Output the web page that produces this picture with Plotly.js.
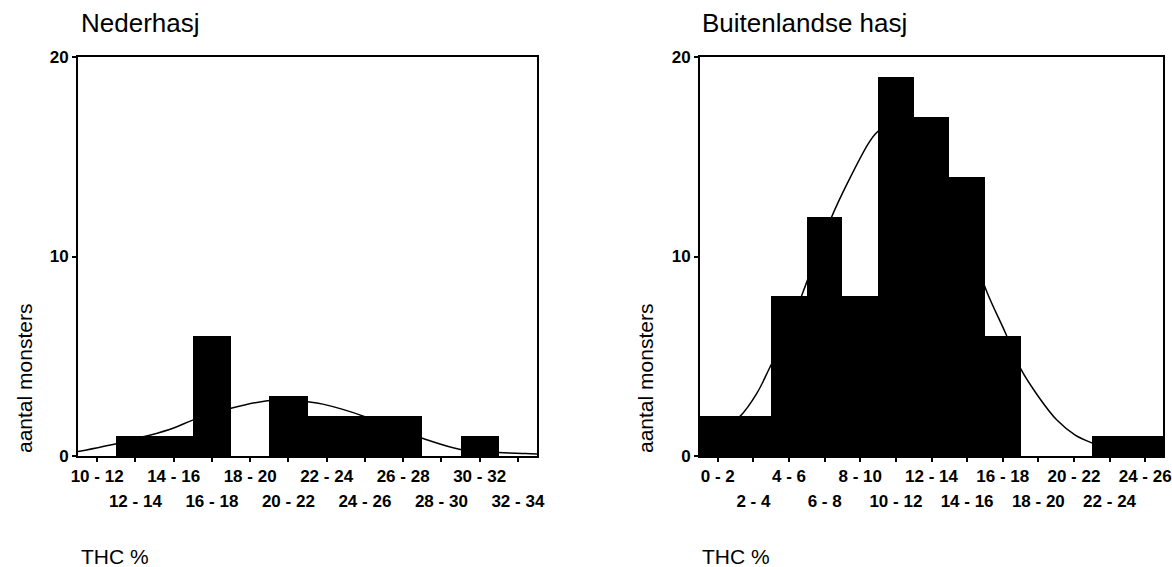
<!DOCTYPE html>
<html>
<head>
<meta charset="utf-8">
<script src="https://cdn.plot.ly/plotly-3.0.1.min.js"></script>
<style>html,body{margin:0;padding:0;background:#fff;}#chart{width:1172px;height:567px;}</style>
</head>
<body>
<div id="chart"></div>
<script>
// ---- Data ----
const leftTitle = 'Nederhasj';
const rightTitle = 'Buitenlandse hasj';
const yTitle = 'aantal monsters';
const xTitle = 'THC %';

const leftLabels = ['10 - 12','12 - 14','14 - 16','16 - 18','18 - 20','20 - 22','22 - 24','24 - 26','26 - 28','28 - 30','30 - 32','32 - 34'];
const leftCounts = [0, 1, 1, 6, 0, 3, 2, 2, 2, 0, 1, 0];
const leftCurveX = [10, 12.1, 12.9, 13.8, 15, 16, 18, 19.9, 21, 22, 22.8, 25, 26, 27, 28, 30, 32, 33.4, 34];
const leftCurveY = [0.22, 0.64, 0.85, 1.05, 1.4, 1.8, 2.39, 2.77, 2.8, 2.72, 2.6, 1.97, 1.55, 1.2, 0.89, 0.33, 0.17, 0.13, 0.1];

const rightLabels = ['0 - 2','2 - 4','4 - 6','6 - 8','8 - 10','10 - 12','12 - 14','14 - 16','16 - 18','18 - 20','20 - 22','22 - 24','24 - 26'];
const rightCounts = [2, 2, 8, 12, 8, 19, 17, 14, 6, 0, 0, 1, 1];
const rightCurveX = [0, 1, 2, 2.26, 3.19, 3.9, 5, 5.76, 7.4, 8.32, 9.46, 9.87, 10.5, 11, 12, 13, 14, 15, 16.14, 17.16, 17.99, 19.01, 20.04, 21.07, 22.06, 23, 24, 25, 26];
const rightCurveY = [0.62, 1.09, 1.83, 2.0, 3.14, 4.4, 6.4, 8.16, 12.0, 13.75, 15.67, 16.17, 16.6, 16.7, 16.3, 15.0, 13.2, 10.9, 8.16, 6.15, 4.4, 2.97, 1.8, 1.05, 0.64, 0.35, 0.18, 0.09, 0.04];

const yTicks = [0, 10, 20];

// ---- helpers ----
function binLo(l){ return parseFloat(l.split('-')[0]); }
function binHi(l){ return parseFloat(l.split('-')[1]); }
function centers(labels){ return labels.map(l => (binLo(l)+binHi(l))/2); }
function widths(labels){ return labels.map(l => binHi(l)-binLo(l)); }

const FONT = 'Arial, "Liberation Sans", sans-serif';
const W = 1172, H = 567;
const px = v => v / W;
const py = v => (H - v) / H;

const yDom = [py(456), py(57)];
const leftDom = [px(78), px(537)];
const rightDom = [px(700), px(1163)];

function rowLabels(labels, row){ return labels.map((l,i) => (i % 2 === row) ? l : ''); }

const lc = centers(leftLabels), rc = centers(rightLabels);
const leftRange = [binLo(leftLabels[0]), binHi(leftLabels[leftLabels.length-1])];
const rightRange = [binLo(rightLabels[0]), binHi(rightLabels[rightLabels.length-1])];

const traces = [
  {type:'scatter', mode:'lines', x:leftCurveX, y:leftCurveY, xaxis:'x', yaxis:'y',
   line:{color:'#000', width:1.5, shape:'spline'}, hoverinfo:'skip', showlegend:false},
  {type:'bar', x:lc, y:leftCounts, width:widths(leftLabels), xaxis:'x3', yaxis:'y3',
   marker:{color:'#000', line:{width:0}}, showlegend:false},
  {type:'scatter', mode:'lines', x:rightCurveX, y:rightCurveY, xaxis:'x2', yaxis:'y2',
   line:{color:'#000', width:1.5, shape:'spline'}, hoverinfo:'skip', showlegend:false},
  {type:'bar', x:rc, y:rightCounts, width:widths(rightLabels), xaxis:'x4', yaxis:'y4',
   marker:{color:'#000', line:{width:0}}, showlegend:false}
];

const tickFont = {family:FONT, size:17, color:'#000', weight:'bold'};
const yTickFont = {family:FONT, size:17, color:'#000', weight:'bold'};

function baseX(dom, range, vals, labels, anchor){
  return {domain:dom, range:range, anchor:anchor, tickmode:'array', tickvals:vals,
    ticktext:rowLabels(labels,0), ticks:'outside', ticklen:4, tickwidth:2, tickcolor:'#000',
    showline:true, mirror:true, linecolor:'#000', linewidth:2, showgrid:false, zeroline:false,
    tickfont:tickFont, fixedrange:true};
}
function overX(over, range, vals, labels, anchor){
  return {overlaying:over, range:range, anchor:anchor, side:'bottom', tickmode:'array', tickvals:vals,
    ticktext:rowLabels(labels,1), ticks:'', showline:false, showgrid:false, zeroline:false,
    ticklabelstandoff:33, tickfont:tickFont, fixedrange:true};
}
function baseY(anchor){
  return {domain:yDom, range:[0,20], anchor:anchor, tickmode:'array', tickvals:yTicks,
    ticks:'outside', ticklen:4, tickwidth:2, tickcolor:'#000', showline:true, mirror:true,
    linecolor:'#000', linewidth:2, showgrid:false, zeroline:false, tickfont:yTickFont, fixedrange:true};
}
function overY(over, anchor){
  return {overlaying:over, range:[0,20], anchor:anchor, showticklabels:false, ticks:'',
    showline:false, showgrid:false, zeroline:false, fixedrange:true};
}

const layout = {
  width:W, height:H, autosize:false,
  margin:{l:0, r:0, t:0, b:0},
  paper_bgcolor:'#fff', plot_bgcolor:'rgba(0,0,0,0)',
  bargap:0, barmode:'overlay', showlegend:false,
  font:{family:FONT, color:'#000'},
  xaxis: baseX(leftDom, leftRange, lc, leftLabels, 'y'),
  yaxis: baseY('x'),
  xaxis2: baseX(rightDom, rightRange, rc, rightLabels, 'y2'),
  yaxis2: baseY('x2'),
  xaxis3: overX('x', leftRange, lc, leftLabels, 'y3'),
  yaxis3: overY('y', 'x3'),
  xaxis4: overX('x2', rightRange, rc, rightLabels, 'y4'),
  yaxis4: overY('y2', 'x4'),
  annotations: [
    {text:leftTitle, xref:'paper', yref:'paper', x:px(79), y:py(23), xanchor:'left', yanchor:'middle', showarrow:false, font:{family:FONT, size:26, color:'#000'}},
    {text:rightTitle, xref:'paper', yref:'paper', x:px(700), y:py(23), xanchor:'left', yanchor:'middle', showarrow:false, font:{family:FONT, size:26, color:'#000'}},
    {text:xTitle, xref:'paper', yref:'paper', x:px(79), y:py(556), xanchor:'left', yanchor:'middle', showarrow:false, font:{family:FONT, size:21, color:'#000'}},
    {text:xTitle, xref:'paper', yref:'paper', x:px(700), y:py(556), xanchor:'left', yanchor:'middle', showarrow:false, font:{family:FONT, size:21, color:'#000'}},
    {text:yTitle, xref:'paper', yref:'paper', x:px(24), y:py(379), xanchor:'center', yanchor:'middle', textangle:-90, showarrow:false, font:{family:FONT, size:21, color:'#000'}},
    {text:yTitle, xref:'paper', yref:'paper', x:px(645), y:py(379), xanchor:'center', yanchor:'middle', textangle:-90, showarrow:false, font:{family:FONT, size:21, color:'#000'}}
  ]
};

Plotly.newPlot('chart', traces, layout, {staticPlot:true, displayModeBar:false});
</script>
</body>
</html>
